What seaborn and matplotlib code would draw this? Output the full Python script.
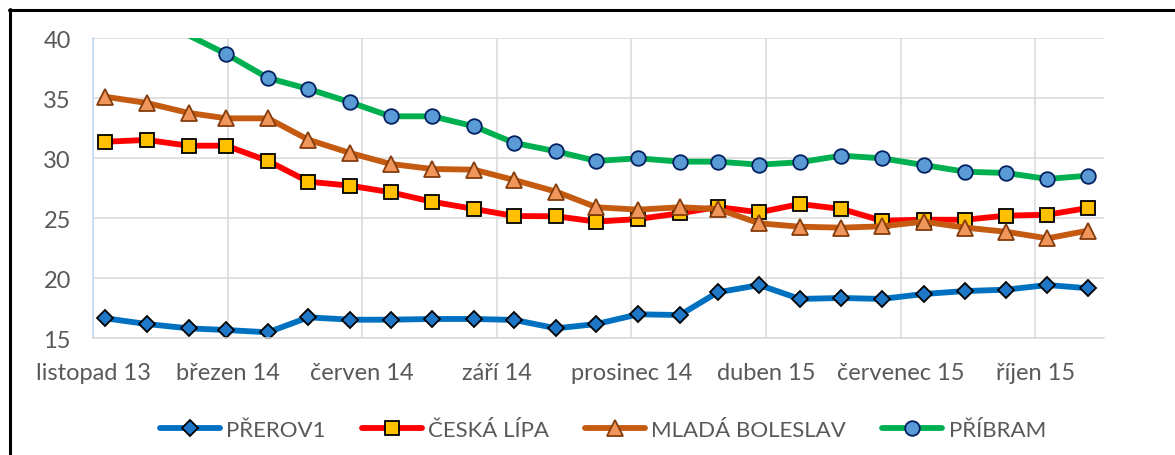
import matplotlib
matplotlib.use("Agg")
import matplotlib.pyplot as plt
import seaborn as sns
import pandas as pd
import numpy as np

# ---------------- data ----------------
dates = pd.date_range("2013-11-30", periods=25, freq="ME")

prerov = [16.67, 16.19, 15.83, 15.69, 15.50, 16.75, 16.55, 16.55, 16.61, 16.61,
          16.53, 15.83, 16.19, 17.00, 16.94, 18.83, 19.44, 18.28, 18.36, 18.28,
          18.69, 18.94, 19.05, 19.44, 19.17]
ceska_lipa = [31.38, 31.53, 31.05, 31.05, 29.78, 28.05, 27.72, 27.17, 26.38, 25.78,
              25.19, 25.17, 24.72, 24.94, 25.42, 25.94, 25.50, 26.19, 25.78, 24.80,
              24.88, 24.88, 25.22, 25.30, 25.86]
mlada_boleslav = [35.13, 34.61, 33.78, 33.33, 33.33, 31.55, 30.44, 29.53, 29.11, 29.05,
                  28.19, 27.22, 25.92, 25.72, 25.92, 25.78, 24.58, 24.30, 24.22, 24.33,
                  24.72, 24.22, 23.88, 23.33, 23.97]
pribram = [42.6, 41.5, 40.25, 38.69, 36.69, 35.78, 34.67, 33.50, 33.50, 32.67,
           31.28, 30.58, 29.78, 30.00, 29.72, 29.72, 29.47, 29.67, 30.22, 30.00,
           29.44, 28.88, 28.78, 28.28, 28.55]

series_names = ["PŘEROV1", "ČESKÁ LÍPA", "MLADÁ BOLESLAV", "PŘÍBRAM"]
tick_labels = ["listopad 13", "březen 14", "červen 14", "září 14",
               "prosinec 14", "duben 15", "červenec 15", "říjen 15"]

# ---------------- style ----------------
sns.set_theme(style="white")
plt.rcParams["font.family"] = ["Lato", "DejaVu Sans"]

styles = {
    "PŘEROV1": dict(color="#0070C0", marker="D", ms=8.5, mfc="#1F77C8", mec="#000000"),
    "ČESKÁ LÍPA": dict(color="#FF0000", marker="s", ms=10, mfc="#FFC000", mec="#000000"),
    "MLADÁ BOLESLAV": dict(color="#C55A11", marker="^", ms=11, mfc="#F0965A", mec="#843C0C"),
    "PŘÍBRAM": dict(color="#00B050", marker="o", ms=10.5, mfc="#5B9BD5", mec="#002060"),
}
values = {"PŘEROV1": prerov, "ČESKÁ LÍPA": ceska_lipa,
          "MLADÁ BOLESLAV": mlada_boleslav, "PŘÍBRAM": pribram}

fig = plt.figure(figsize=(11.75, 4.56), dpi=100)
ax = fig.add_axes([93 / 1175, 1 - 339.3 / 456, (1104 - 93) / 1175, 300 / 456])

lines = {}
for name in series_names:
    st = styles[name]
    df = pd.DataFrame({"date": dates, "value": values[name]})
    sns.lineplot(data=df, x="date", y="value", ax=ax, label=name,
                 color=st["color"], linewidth=4.2, marker=st["marker"],
                 markersize=st["ms"], markerfacecolor=st["mfc"],
                 markeredgecolor=st["mec"], markeredgewidth=1.3)
    lines[name] = ax.lines[-1]

# axes limits / ticks
x0 = pd.Timestamp("2013-11-21")
ax.set_xlim(x0, x0 + pd.Timedelta(days=751))
ticks = [x0 + pd.Timedelta(days=100 * k) for k in range(len(tick_labels))]
ax.set_xticks(ticks)
ax.set_xticklabels(tick_labels)
ax.set_ylim(15, 40)
ax.set_yticks(np.arange(15, 41, 5))
ax.set_xlabel("")
ax.set_ylabel("")

ax.grid(True, color="#D9D9D9", linewidth=1.1)
ax.set_axisbelow(True)
for s in ["top", "right"]:
    ax.spines[s].set_visible(False)
ax.spines["bottom"].set_color("#D9D9D9")
ax.spines["bottom"].set_linewidth(1.1)
ax.spines["left"].set_color("#BDD7EE")
ax.spines["left"].set_linewidth(1.1)
ax.tick_params(axis="both", length=0, labelsize=17, labelcolor="#595959")
ax.tick_params(axis="x", pad=17)
ax.tick_params(axis="y", pad=16)

# legend
ax.legend_.remove()
handles = [lines[n] for n in series_names]
leg = fig.legend(handles, series_names, loc="center", bbox_to_anchor=(0.513, 0.055),
                 ncol=4, frameon=False, fontsize=16, handlelength=2.7,
                 handletextpad=0.3, columnspacing=1.6, numpoints=1)
for t in leg.get_texts():
    t.set_color("#595959")

# hide markers of points above the axis maximum (as in the original)
for name in series_names:
    vals = values[name]
    idx = [i for i, v in enumerate(vals) if v <= 40]
    if len(idx) < len(vals):
        lines[name].set_markevery(idx)

# outer frame (top and left edges)
fig.add_artist(plt.Line2D([9 / 1175, 1.0], [1 - 11 / 456, 1 - 11 / 456],
                          transform=fig.transFigure, color="black", linewidth=2.2))
fig.add_artist(plt.Line2D([10 / 1175, 10 / 1175], [0.0, 1 - 10 / 456],
                          transform=fig.transFigure, color="black", linewidth=2.2))

fig.savefig("out.png", dpi=100, facecolor="white")
